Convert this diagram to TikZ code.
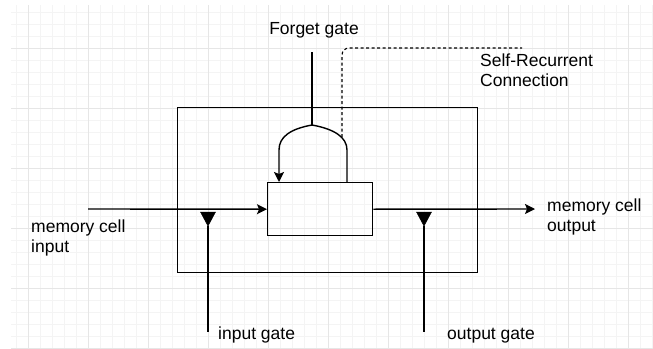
\documentclass[tikz,border=0pt]{standalone}
\usepackage{fontspec}
\setmainfont{Liberation Sans}
\usetikzlibrary{arrows.meta}
\definecolor{minorgray}{HTML}{F4F4F4}
\definecolor{majorgray}{HTML}{E6E6E6}
\begin{document}
\begin{tikzpicture}[x=1pt,y=-1pt,
  line/.style={line width=1.4pt, black},
  lbl/.style={inner sep=0pt, font=\fontsize{17.5}{20}\selectfont, align=left, anchor=base west},
  tipstyle/.style={-{Stealth[length=10pt,width=10pt,inset=2pt]}},
  gatetri/.style={fill=black, draw=black, line width=0.5pt},
  boxstyle/.style={draw, line width=1.4pt, inner sep=0pt, anchor=north west}
]
\useasboundingbox (0,0) rectangle (653,348);
% grid
\begin{scope}
\clip (11,5) rectangle (653,348);
\foreach \x in {16,28,...,652} \draw[minorgray, line width=0.8pt] (\x,0) -- (\x,348);
\foreach \y in {12,24,...,348} \draw[minorgray, line width=0.8pt] (0,\y) -- (653,\y);
\foreach \x in {28,88,...,652} \draw[majorgray, line width=1pt] (\x,0) -- (\x,348);
\foreach \y in {48,108,...,348} \draw[majorgray, line width=1pt] (0,\y) -- (653,\y);
\end{scope}

% boxes
\node[boxstyle, minimum width=300pt, minimum height=165pt] (outer) at (177,107) {};
\node[boxstyle, minimum width=105pt, minimum height=53pt] (cell) at (267,182) {};

% coordinates
\coordinate (in) at (88,209);
\coordinate (out) at (535,209);
\coordinate (fgtop) at (312,52);
\coordinate (peak) at (312,125);
\coordinate (rightfoot) at (347,182);
\coordinate (leftfoot) at (279,182);
\coordinate (dashstart) at (342,137);
\coordinate (dashcorner) at (342,48);
\coordinate (dashend) at (522,48);
\coordinate (igtip) at (208,226);
\coordinate (igbot) at (208,332);
\coordinate (ogtip) at (424,226);
\coordinate (ogbot) at (424,332);

% labels (base = baseline of last line)
\node[lbl] (lin) at (31,252) {memory cell\\input};
\node[lbl] (lout) at (547,231) {memory cell\\output};
\node[lbl] (lig) at (218,339) {input gate};
\node[lbl] (log) at (447,339) {output gate};
\node[lbl, anchor=base] (lfg) at (314,34) {Forget gate};
\node[lbl] (lsr) at (480,86) {Self-Recurrent\\Connection};

% main flow
\draw[line, tipstyle] (in) -- (cell.west);
\draw[line, tipstyle] (cell.east) -- (out);

% forget gate
\draw[line] (fgtop) -- (peak);
\draw[line, tipstyle] (rightfoot) -- (347,150)
  .. controls (347,137) and (334,129) .. (peak)
  .. controls (290,129) and (279,137) .. (279,150) -- (leftfoot);

% self recurrent dashed
\draw[line width=1.1pt, dash pattern=on 3pt off 2.5pt, rounded corners=7pt]
  (dashstart) -- (dashcorner) -- (dashend);

% input gate
\draw[gatetri] (200.5,212) -- (215.5,212) -- (igtip) -- cycle;
\draw[line] (igtip) -- (igbot);
% output gate
\draw[gatetri] (416.5,212) -- (431.5,212) -- (ogtip) -- cycle;
\draw[line] (ogtip) -- (ogbot);
\end{tikzpicture}
\end{document}
